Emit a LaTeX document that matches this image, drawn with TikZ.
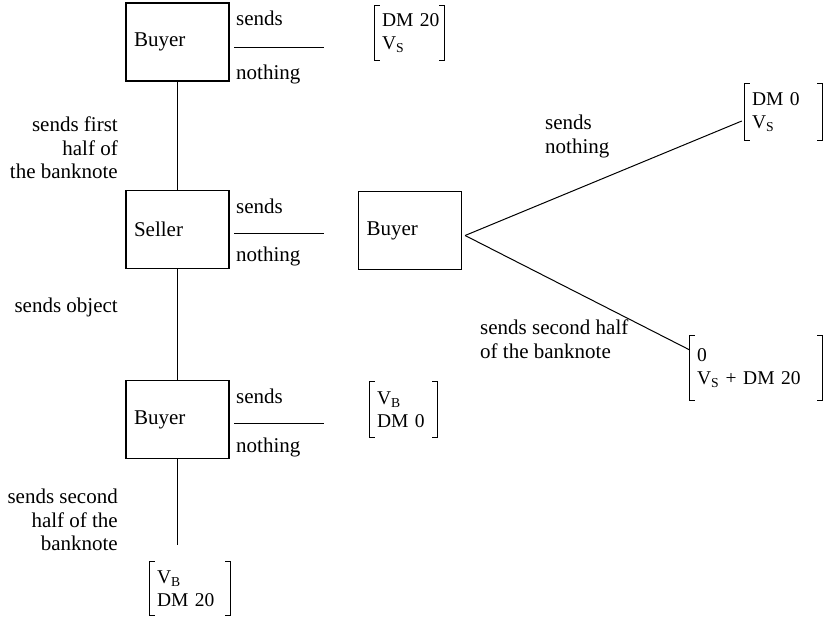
\documentclass[tikz,border=0pt]{standalone}
\usepackage{fontspec}
\setmainfont{Liberation Serif}
\newcommand\paybr[1]{%
  \draw[ln] ([xshift=5pt]#1.north west) -- (#1.north west) -- (#1.south west) -- ([xshift=5pt]#1.south west);
  \draw[ln] ([xshift=-5pt]#1.north east) -- (#1.north east) -- (#1.south east) -- ([xshift=-5pt]#1.south east);}
\begin{document}
\begin{tikzpicture}[x=1pt,y=-1pt,
  ln/.style={line width=1pt},
  box/.style={draw,line width=1.2pt,minimum width=103pt,minimum height=78pt,text width=87pt,inner xsep=8pt,align=left},
  lab/.style={inner sep=0pt,align=left},
  rlab/.style={inner sep=0pt,align=right},
  pay/.style={inner xsep=7pt,inner ysep=0pt,align=left,font=\fontsize{19.5}{23}\selectfont},
  every node/.append style={font=\fontsize{21}{23.5}\selectfont}]
\useasboundingbox (0,0) rectangle (824,618);
% boxes
\node[box] (b1) at (177.5,42) {Buyer};
\node[box] (s)  at (177.5,229.5) {Seller};
\node[box] (b3) at (177.5,419.5) {Buyer};
\node[box] (b2) at (410,230.5) {Buyer};
% payoffs
\node[pay,text width=55pt,minimum height=54pt] (p1) at (409.5,33) {\mbox{DM 20}\\V\textsubscript{S}};
\paybr{p1}
\node[pay,text width=53pt,minimum height=55pt] (p4) at (403.5,409.5) {V\textsubscript{B}\\\mbox{DM 0}};
\paybr{p4}
\node[pay,text width=66pt,minimum height=53pt] (p5) at (190,588.5) {V\textsubscript{B}\\\mbox{DM 20}};
\paybr{p5}
\node[pay,text width=63pt,minimum height=56pt] (p2) at (783.5,112) {\mbox{DM 0}\\V\textsubscript{S}};
\paybr{p2}
\node[pay,text width=118pt,minimum height=64pt] (p3) at (756,368) {0\\\mbox{V\textsubscript{S} + DM 20}};
\paybr{p3}
% vertical connectors
\draw[ln] (b1.south) -- (s.north);
\draw[ln] (s.south) -- (b3.north);
\coordinate (e5) at (177.5,545);
\draw[ln] (b3.south) -- (e5);
% short horizontal "sends nothing" lines
\coordinate (h1a) at (234,48); \coordinate (h1b) at (324,48);
\coordinate (h2a) at (234,233); \coordinate (h2b) at (324,233);
\coordinate (h3a) at (234,423); \coordinate (h3b) at (324,423);
\draw[ln] (h1a) -- (h1b); \draw[ln] (h2a) -- (h2b); \draw[ln] (h3a) -- (h3b);
\node[lab,anchor=base west] (t1) at ([shift={(2,-22)}]h1a) {sends};
\node[lab,anchor=base west] (n1) at ([shift={(2,31)}]h1a) {nothing};
\node[lab,anchor=base west] (t2) at ([shift={(2,-20)}]h2a) {sends};
\node[lab,anchor=base west] (n2) at ([shift={(2,28)}]h2a) {nothing};
\node[lab,anchor=base west] (t3) at ([shift={(2,-20)}]h3a) {sends};
\node[lab,anchor=base west] (n3) at ([shift={(2,29)}]h3a) {nothing};
% branches from Buyer 2
\coordinate (o) at ([shift={(3,5)}]b2.east);
\draw[ln] (o) -- ([shift={(-3,9)}]p2.west);
\draw[ln] (o) -- ([shift={(0,-18)}]p3.west);
\node[lab,anchor=north west] (bl1) at (545,115) {sends\\nothing};
\node[lab,anchor=north west] (bl2) at (480,320) {sends second half\\of the banknote};
% left labels
\node[rlab,anchor=north east] (l1) at (118,117) {sends first\\half of\\the banknote};
\node[rlab,anchor=north east] (l2) at (118,298) {sends object};
\node[rlab,anchor=north east] (l3) at (118,489) {sends second\\half of the\\banknote};
\end{tikzpicture}
\end{document}
